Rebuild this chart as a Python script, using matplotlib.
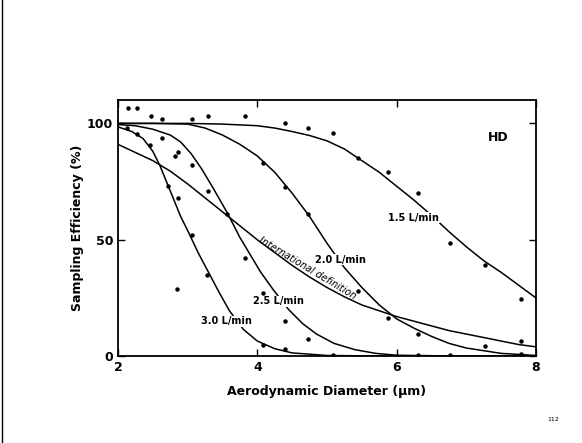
# Sampling efficiency of the HD cyclone at several flow rates vs. the international definition
import matplotlib.pyplot as plt

# fitted curves (diameter in um, efficiency in %)
x_15 = [2.0, 3.0, 3.5, 4.0, 4.25, 4.5, 4.75, 5.0, 5.25, 5.5, 5.75, 6.0, 6.25, 6.5,
        6.75, 7.0, 7.25, 7.5, 7.75, 8.0]
y_15 = [100, 100, 99.7, 99, 98, 96.5, 94.8, 92.5, 89, 84, 79, 73, 67, 60.5,
        53.5, 47, 41, 36, 30.5, 25]

x_20 = [2.0, 2.5, 3.0, 3.25, 3.5, 3.75, 4.0, 4.25, 4.5, 4.75, 5.0, 5.25, 5.5, 5.75,
        6.0, 6.25, 6.5, 6.75, 7.0, 7.5, 8.0]
y_20 = [100, 100, 99.7, 98, 95, 91, 86, 79, 70, 60, 48.5, 38, 29.5, 22,
        16, 12, 8.5, 5.5, 3.5, 1.2, 0.3]

x_25 = [2.0, 2.25, 2.5, 2.75, 2.9, 3.05, 3.2, 3.37, 3.57, 3.75, 3.9, 4.05, 4.23,
        4.45, 4.65, 4.85, 5.1, 5.4, 5.7, 6.0, 7.0, 8.0]
y_25 = [99.5, 99, 97.5, 95, 92, 87, 80.5, 72, 61.5, 51, 43.5, 36, 28.5,
        20, 14, 9.5, 5.5, 2.8, 1.2, 0.4, 0, 0]

x_30 = [2.0, 2.2, 2.36, 2.5, 2.6, 2.75, 2.9, 3.0, 3.15, 3.3, 3.45, 3.6, 3.8, 4.0,
        4.25, 4.5, 5.0, 6.0, 8.0]
y_30 = [98.5, 96.5, 93.5, 88, 82, 71, 60, 54, 44.5, 36, 27.5, 19.5, 11.5, 6.5,
        3.2, 1.4, 0.3, 0, 0]

x_int = [2.0, 2.25, 2.5, 2.75, 3.0, 3.25, 3.5, 3.75, 4.0, 4.25, 4.5, 4.75, 5.0,
         5.25, 5.5, 5.75, 6.0, 6.25, 6.5, 6.75, 7.0, 7.25, 7.5, 7.75, 8.0]
y_int = [91, 87.5, 84, 79.5, 74, 68, 62, 56, 50, 44.5, 39, 34, 29.5,
         25.5, 22, 19.5, 17, 15, 13, 11, 9.5, 8, 6.5, 5, 4]

# measured points
pts_x = [2.14, 2.27, 2.47, 2.63, 3.06, 3.29, 3.82, 4.4, 4.73, 5.09,
         2.13, 2.27, 2.46, 2.63, 2.86, 2.82, 3.06, 3.29, 2.72, 2.86, 3.57,
         4.08, 4.4, 4.73, 5.45, 5.88, 6.31, 6.77, 7.27, 7.78,
         5.88, 6.3, 7.27, 7.78, 6.3, 6.77, 7.78,
         3.82, 4.08, 4.4, 4.73, 5.45, 4.4, 4.08, 5.09,
         3.06, 3.28, 2.85]
pts_y = [106.7, 106.7, 103, 102, 102, 103, 103, 100, 98, 96,
         98, 95.5, 90.7, 93.7, 87.7, 86, 82, 71, 73, 68, 61,
         83, 72.6, 61, 85, 79, 70, 48.8, 39, 24.6,
         16.4, 9.5, 4.3, 6.5, 0.5, 0.5, 1,
         42, 27, 15, 7.3, 28, 3, 5, 0.5,
         52, 35, 29]

fig = plt.figure(figsize=(5.82, 4.43), dpi=100)
ax = fig.add_axes([0.2027, 0.196, 0.7183, 0.578])

for xs, ys in [(x_15, y_15), (x_20, y_20), (x_25, y_25), (x_30, y_30), (x_int, y_int)]:
    ax.plot(xs, ys, color='black', lw=1.1)
ax.plot(pts_x, pts_y, 'o', color='black', ms=2.2, ls='none')

ax.set_xlim(2, 8)
ax.set_ylim(0, 110)
ax.set_xticks([2, 4, 6, 8])
ax.set_yticks([0, 50, 100])
ax.tick_params(direction='in', top=True, right=True, length=5, width=1,
               labelsize=9)
for lab in ax.get_xticklabels() + ax.get_yticklabels():
    lab.set_fontweight('bold')
for sp in ax.spines.values():
    sp.set_linewidth(1.3)

lab_kw = dict(fontsize=7, fontweight='bold', ha='center', va='center',
              bbox=dict(facecolor='white', edgecolor='none', pad=0.5))
ax.text(6.24, 59.5, '1.5 L/min', **lab_kw)
ax.text(5.19, 41.5, '2.0 L/min', **lab_kw)
ax.text(4.3, 23.5, '2.5 L/min', **lab_kw)
ax.text(3.55, 15, '3.0 L/min', **lab_kw)
ax.text(4.72, 38, 'International definition', fontsize=7, style='italic',
        ha='center', va='center', rotation=-31, rotation_mode='anchor')
ax.text(7.46, 94, 'HD', fontsize=9, fontweight='bold', ha='center', va='center')

ax.set_xlabel('Aerodynamic Diameter (\u00b5m)', fontsize=9, fontweight='bold',
              labelpad=8)
ax.set_ylabel('Sampling Efficiency (%)', fontsize=9, fontweight='bold',
              labelpad=2)

fig.text(0.95, 0.05, '112', fontsize=4.5, ha='center')
fig.add_artist(plt.Line2D([0.003, 0.003], [0, 1], color='black', lw=1))

fig.savefig('out.png', dpi=100)
